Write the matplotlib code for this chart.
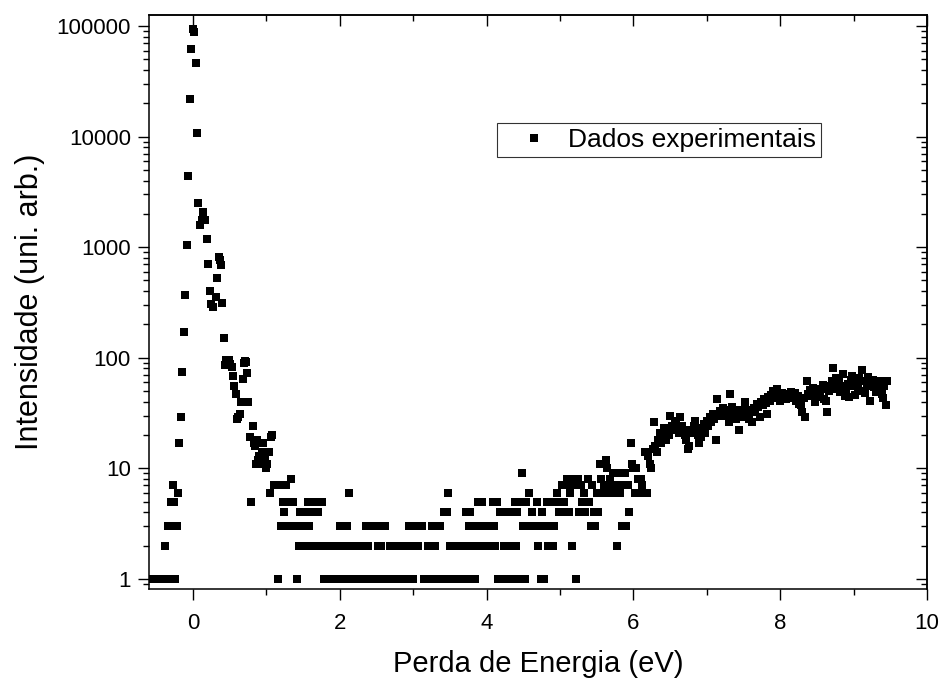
import numpy as np
import matplotlib
matplotlib.use("Agg")
import matplotlib.pyplot as plt

plt.rcParams['font.family'] = ['Liberation Sans', 'DejaVu Sans']

# elastic peak and its shoulder (eV, counts)
peak_energy = [-0.54, -0.52, -0.50, -0.48, -0.46, -0.44, -0.42, -0.40, -0.38, -0.36,
               -0.345, -0.325, -0.31, -0.30, -0.28, -0.26, -0.245, -0.225, -0.205, -0.187,
               -0.165, -0.146, -0.127, -0.105, -0.086, -0.065, -0.045, -0.027, -0.004, 0.018,
               0.037, 0.055, 0.072, 0.095, 0.115, 0.135, 0.165, 0.19, 0.21, 0.23,
               0.25, 0.275, 0.31, 0.327, 0.35, 0.365, 0.385, 0.40, 0.42, 0.436,
               0.455, 0.475, 0.495, 0.51, 0.527, 0.545, 0.563, 0.58, 0.60, 0.617,
               0.635, 0.655, 0.675, 0.69, 0.705, 0.72, 0.735, 0.755, 0.775, 0.795,
               0.813, 0.83, 0.845, 0.86, 0.875, 0.89, 0.905, 0.92, 0.935, 0.95,
               0.965, 0.98, 0.995, 1.01, 1.03, 1.045, 1.06, 1.08, 1.10]
peak_counts = [1, 1, 1, 1, 1, 1, 1, 1, 2, 1,
               3, 1, 3, 5, 7, 5, 1, 3, 6, 17,
               29, 75, 172, 372, 1040, 4360, 22000, 62000, 95000, 88000,
               46000, 10800, 2520, 1580, 1760, 2080, 1760, 1190, 700, 405,
               307, 290, 357, 525, 815, 760, 695, 316, 151, 86,
               95, 92, 95, 88, 83, 68, 56, 47, 28, 29,
               31, 40, 64, 90, 94, 92, 73, 40, 19, 5,
               24, 17, 16, 11, 18, 12, 13, 11, 14, 17,
               11, 12, 10, 11, 14, 6, 19, 20, 7]

# low-count background (0 = empty channel, not drawn on the log axis)
low_energy = [1.12, 1.14, 1.16, 1.18, 1.20, 1.22, 1.24, 1.26, 1.28, 1.30,
              1.32, 1.34, 1.36, 1.38, 1.40, 1.42, 1.44, 1.46, 1.48, 1.50,
              1.52, 1.54, 1.56, 1.58, 1.60, 1.62, 1.64, 1.66, 1.68, 1.70,
              1.72, 1.74, 1.76, 1.78, 1.80, 1.82, 1.84, 1.86, 1.88, 1.90,
              1.92, 1.94, 1.96, 1.98, 2.00, 2.02, 2.04, 2.06, 2.08, 2.10,
              2.12, 2.14, 2.16, 2.18, 2.20, 2.22, 2.24, 2.26, 2.28, 2.30,
              2.32, 2.34, 2.36, 2.38, 2.40, 2.42, 2.44, 2.46, 2.48, 2.50,
              2.52, 2.54, 2.56, 2.58, 2.60, 2.62, 2.64, 2.66, 2.68, 2.70,
              2.72, 2.74, 2.76, 2.78, 2.80, 2.82, 2.84, 2.86, 2.88, 2.90,
              2.92, 2.94, 2.96, 2.98, 3.00, 3.02, 3.04, 3.06, 3.08, 3.10,
              3.12, 3.14, 3.16, 3.18, 3.20, 3.22, 3.24, 3.26, 3.28, 3.30,
              3.32, 3.34, 3.36, 3.38, 3.40, 3.42, 3.44, 3.46, 3.48, 3.50,
              3.52, 3.54, 3.56, 3.58, 3.60, 3.62, 3.64, 3.66, 3.68, 3.70,
              3.72, 3.74, 3.76, 3.78, 3.80, 3.82, 3.84, 3.86, 3.88, 3.90,
              3.92, 3.94, 3.96, 3.98, 4.00, 4.02, 4.04, 4.06, 4.08, 4.10,
              4.12, 4.14, 4.16, 4.18, 4.20, 4.22, 4.24, 4.26, 4.28, 4.30,
              4.32, 4.34, 4.36, 4.38, 4.40, 4.42, 4.44, 4.46, 4.48, 4.50,
              4.52, 4.54, 4.56, 4.58, 4.60, 4.62, 4.64, 4.66, 4.68, 4.70,
              4.72, 4.74, 4.76, 4.78, 4.80, 4.82, 4.84, 4.86, 4.88, 4.90,
              4.92, 4.94, 4.96, 4.98, 5.00, 5.02, 5.04, 5.06, 5.08, 5.10,
              5.12, 5.14, 5.16, 5.18, 5.20, 5.22, 5.24, 5.26, 5.28, 5.30,
              5.32, 5.34, 5.36, 5.38, 5.40, 5.42, 5.44, 5.46, 5.48, 5.50,
              5.52, 5.54, 5.56, 5.58, 5.60, 5.62, 5.64, 5.66, 5.68, 5.70,
              5.72, 5.74, 5.76, 5.78, 5.80, 5.82, 5.84, 5.86, 5.88, 5.90,
              5.92, 5.94, 5.96, 5.98, 6.00, 6.02, 6.04, 6.06, 6.08, 6.10,
              6.12, 6.14, 6.16, 6.18]
low_counts = [7, 7, 1, 7, 3, 5, 4, 7, 3, 5,
              3, 8, 5, 3, 3, 1, 2, 4, 3, 4,
              2, 2, 5, 3, 4, 2, 4, 5, 2, 4,
              5, 2, 5, 1, 2, 2, 1, 2, 1, 2,
              1, 2, 1, 2, 3, 1, 2, 3, 1, 3,
              6, 2, 1, 2, 1, 2, 1, 2, 1, 2,
              1, 2, 3, 2, 3, 1, 0, 3, 0, 0,
              2, 1, 2, 3, 1, 3, 1, 1, 2, 1,
              2, 1, 2, 1, 2, 1, 2, 1, 2, 1,
              2, 3, 1, 3, 1, 2, 3, 2, 3, 0,
              3, 1, 1, 0, 2, 1, 2, 3, 1, 2,
              3, 1, 3, 1, 1, 4, 1, 4, 6, 2,
              1, 2, 1, 2, 1, 2, 1, 2, 1, 2,
              4, 1, 3, 4, 2, 3, 1, 2, 5, 3,
              2, 5, 3, 2, 3, 2, 3, 2, 5, 3,
              2, 5, 1, 4, 1, 4, 2, 4, 2, 1,
              2, 1, 4, 5, 2, 4, 1, 5, 9, 3,
              1, 5, 3, 6, 3, 4, 3, 0, 5, 2,
              3, 1, 4, 1, 3, 5, 2, 3, 5, 2,
              3, 5, 6, 4, 5, 7, 4, 5, 7, 8,
              4, 6, 2, 7, 8, 1, 8, 4, 7, 5,
              6, 4, 5, 8, 5, 3, 7, 4, 3, 6,
              4, 11, 8, 6, 7, 12, 10, 6, 8, 7,
              9, 6, 7, 2, 9, 6, 3, 7, 9, 3,
              7, 4, 17, 11, 10, 6, 10, 8, 6, 8,
              7, 6, 14, 6]

# rising plasmon tail
tail_energy = [6.20, 6.22, 6.24, 6.26, 6.28, 6.30, 6.32, 6.34, 6.36, 6.38,
               6.40, 6.42, 6.44, 6.46, 6.48, 6.50, 6.52, 6.54, 6.56, 6.58,
               6.60, 6.62, 6.64, 6.66, 6.68, 6.70, 6.72, 6.74, 6.76, 6.78,
               6.80, 6.82, 6.84, 6.86, 6.88, 6.90, 6.92, 6.94, 6.96, 6.98,
               7.00, 7.02, 7.04, 7.06, 7.08, 7.10, 7.12, 7.14, 7.16, 7.18,
               7.20, 7.22, 7.24, 7.26, 7.28, 7.30, 7.32, 7.34, 7.36, 7.38,
               7.40, 7.42, 7.44, 7.46, 7.48, 7.50, 7.52, 7.54, 7.56, 7.58,
               7.60, 7.62, 7.64, 7.66, 7.68, 7.70, 7.72, 7.74, 7.76, 7.78,
               7.80, 7.82, 7.84, 7.86, 7.88, 7.90, 7.92, 7.94, 7.96, 7.98,
               8.00, 8.02, 8.04, 8.06, 8.08, 8.10, 8.12, 8.14, 8.16, 8.18,
               8.20, 8.22, 8.24, 8.26, 8.28, 8.30, 8.32, 8.34, 8.36, 8.38,
               8.40, 8.42, 8.44, 8.46, 8.48, 8.50, 8.52, 8.54, 8.56, 8.58,
               8.60, 8.62, 8.64, 8.66, 8.68, 8.70, 8.72, 8.74, 8.76, 8.78,
               8.80, 8.82, 8.84, 8.86, 8.88, 8.90, 8.92, 8.94, 8.96, 8.98,
               9.00, 9.02, 9.04, 9.06, 9.08, 9.10, 9.12, 9.14, 9.16, 9.18,
               9.20, 9.22, 9.24, 9.26, 9.28, 9.30, 9.32, 9.34, 9.36, 9.38,
               9.40, 9.42, 9.44, 9.46]
tail_counts = [13, 11, 10, 15, 26, 16, 14, 18, 21, 17,
               20, 23, 18, 22, 20, 30, 24, 22, 25, 27,
               23, 21, 29, 24, 22, 20, 18, 15, 16, 22,
               21, 24, 27, 22, 20, 17, 19, 23, 25, 21,
               27, 24, 29, 26, 31, 28, 18, 42, 30, 33,
               31, 35, 32, 34, 30, 26, 47, 36, 33, 31,
               28, 34, 22, 29, 32, 30, 40, 34, 31, 28,
               33, 26, 35, 32, 38, 36, 29, 40, 37, 42,
               39, 31, 44, 41, 46, 50, 43, 47, 52, 45,
               41, 48, 44, 46, 42, 47, 45, 49, 43, 46,
               48, 41, 45, 38, 37, 32, 43, 29, 61, 47,
               51, 45, 53, 48, 40, 46, 50, 44, 52, 57,
               42, 41, 32, 50, 55, 62, 80, 58, 66, 52,
               60, 49, 55, 72, 45, 51, 58, 44, 63, 68,
               56, 46, 60, 53, 65, 50, 77, 62, 48, 56,
               67, 41, 58, 63, 54, 49, 60, 61, 52, 47,
               43, 55, 37, 61]

energy = np.array(peak_energy + low_energy + tail_energy)
counts = np.array(peak_counts + low_counts + tail_counts, dtype=float)
keep = counts > 0

fig = plt.figure(figsize=(9.42, 6.78), dpi=100)
ax = fig.add_axes([0.1582, 0.1313, 0.8259, 0.8466])

ax.plot(energy[keep], counts[keep], 's', color='k', ms=5.8, mew=0,
        label='Dados experimentais')

ax.set_yscale('log')
ax.set_xlim(-0.6, 10)
ax.set_ylim(0.81, 126000)

yt = [1, 10, 100, 1000, 10000, 100000]
ax.set_yticks(yt, [str(v) for v in yt])
ax.yaxis.set_minor_locator(matplotlib.ticker.LogLocator(base=10, subs=np.arange(2, 10)))
ax.yaxis.set_minor_formatter(matplotlib.ticker.NullFormatter())
ax.set_xticks([0, 2, 4, 6, 8, 10])
ax.set_xticks([1, 3, 5, 7, 9], minor=True)

ax.tick_params(which='major', direction='out', length=8, width=1.0, labelsize=16, pad=5)
ax.tick_params(which='minor', direction='out', length=4.5, width=1.0)
ax.tick_params(axis='x', which='major', pad=9)

# mirrored axes with inward ticks
top = ax.secondary_xaxis('top')
top.set_xticks([0, 2, 4, 6, 8, 10])
top.set_xticks([1, 3, 5, 7, 9], minor=True)
top.tick_params(which='major', direction='in', length=8, width=1.0, labeltop=False)
top.tick_params(which='minor', direction='in', length=4.5, width=1.0)
right = ax.secondary_yaxis('right')
right.set_yticks(yt)
right.yaxis.set_minor_locator(matplotlib.ticker.LogLocator(base=10, subs=np.arange(2, 10)))
right.tick_params(which='major', direction='in', length=8, width=1.0, labelright=False)
right.tick_params(which='minor', direction='in', length=4.5, width=1.0, labelright=False)

for s in list(ax.spines.values()) + [top.spines['top'], right.spines['right']]:
    s.set_linewidth(1.1)

ax.set_xlabel('Perda de Energia (eV)', fontsize=21, labelpad=12)
ax.set_ylabel('Intensidade (uni. arb.)', fontsize=22, labelpad=8)

leg = ax.legend(loc='upper left', bbox_to_anchor=(0.447, 0.812), fontsize=19,
                frameon=True, fancybox=False, edgecolor='k', borderpad=0.2,
                handlelength=2.4, handletextpad=0.1, borderaxespad=0, markerscale=0.9)
leg.get_frame().set_linewidth(0.8)

fig.savefig('out.png', dpi=100)
